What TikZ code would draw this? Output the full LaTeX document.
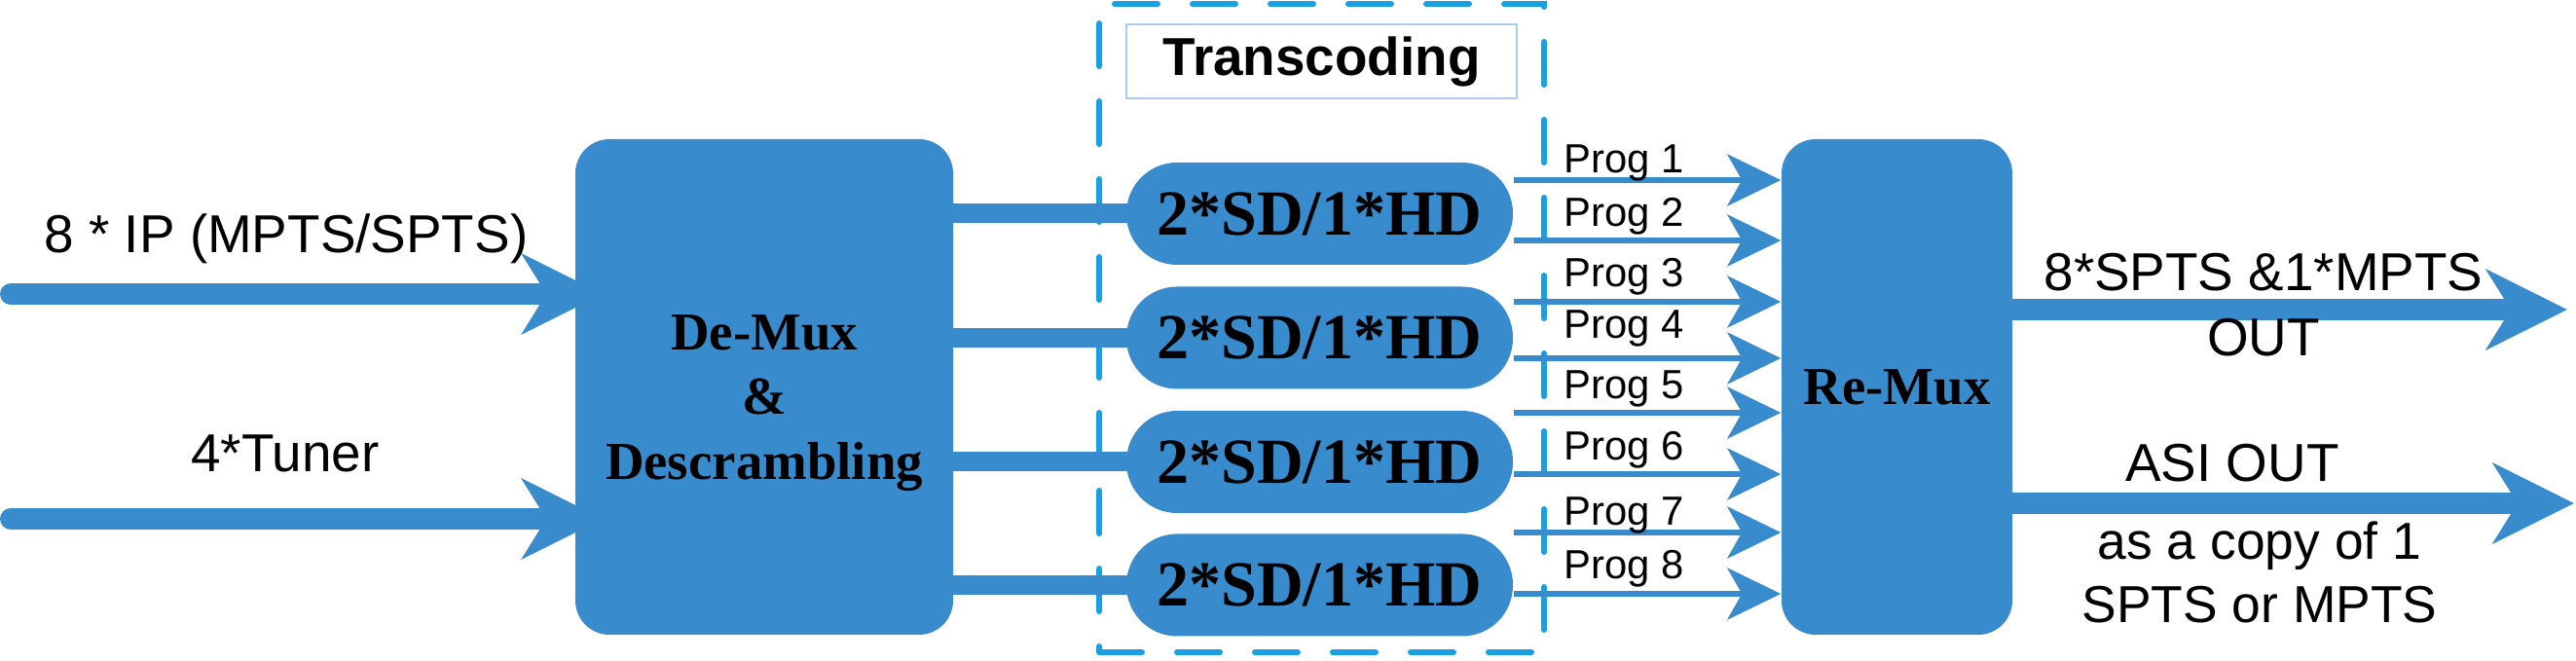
\documentclass[tikz,border=0pt]{standalone}
\usepackage{fontspec}
\setmainfont{Liberation Sans}
\newfontfamily\timesfont{Liberation Serif}
\usetikzlibrary{arrows.meta,positioning}
\definecolor{boxblue}{RGB}{56,139,204}
\definecolor{dashblue}{RGB}{24,160,226}
\definecolor{frameblue}{RGB}{170,205,235}
\tikzset{
  bigbox/.style={fill=boxblue,rounded corners=3.5mm,minimum height=5.09cm,inner sep=0pt},
  boxtext/.style={font=\timesfont\bfseries\fontsize{15.6}{18.9}\selectfont,align=center,inner sep=0pt},
  codec/.style={fill=boxblue,rounded corners=5.2mm,minimum width=3.97cm,minimum height=1.05cm,inner sep=0pt,
    font=\timesfont\bfseries\fontsize{18.8}{22}\selectfont},
  groupbox/.style={draw=dashblue,line width=0.6mm,line cap=round,dash pattern=on 4.4mm off 3.6mm,
    minimum width=4.57cm,minimum height=6.66cm,inner sep=0pt},
  fat/.style={boxblue,line width=2.2mm,line cap=round,-{Stealth[length=8.3mm,width=8.2mm,inset=2.5mm]}},
  feed/.style={boxblue,line width=2mm,line cap=round},
  progline/.style={boxblue,line width=0.6mm,-{Stealth[length=5.5mm,width=5.3mm,inset=1.5mm]}},
  proglbl/.style={font=\fontsize{11.9}{14}\selectfont,anchor=base,inner sep=0pt},
  sidelbl/.style={font=\fontsize{15.6}{19}\selectfont,anchor=base,inner sep=0pt},
  outlbl/.style={font=\fontsize{15.6}{19.1}\selectfont,align=center,inner sep=0pt}
}
\begin{document}
\begin{tikzpicture}
\useasboundingbox (0,0) rectangle (26.46,-6.79);
\node[bigbox,minimum width=3.88cm] (demux) at (7.85,-3.975) {};
\node[boxtext] (demuxtxt) at ([yshift=-1.65mm]demux.center) {De-Mux\\\&\\Descrambling};
\node[bigbox,boxtext,minimum width=2.37cm] (remux) at (19.485,-3.975) {Re-Mux};

\node[groupbox] (trans) at (13.575,-3.37) {};
\node[draw=frameblue,line width=0.2mm,minimum width=4.01cm,minimum height=0.76cm,inner sep=0pt,
  font=\bfseries\fontsize{15.6}{19}\selectfont] (translbl) at (13.575,-0.63) {Transcoding};

\foreach \y [count=\i] in {2.195,3.47,4.745,6.01} {
  \node[codec] (cod\i) at (13.555,-\y) {2*SD/1*HD};
  \draw[feed] (demux.east |- cod\i) -- (cod\i.west);
}

\foreach \ly/\by/\c [count=\n] in {1.85/1.78/1,2.47/2.33/1,3.10/2.95/2,3.68/3.48/2,
    4.24/4.10/3,4.87/4.73/3,5.47/5.40/4,6.10/5.95/4} {
  \draw[progline] (cod\c.east |- 0,-\ly) -- (remux.west |- 0,-\ly);
  \node[proglbl] at (16.68,-\by) {Prog \n};
}

\coordinate (ipin) at (0.11,-3.02);
\coordinate (tunin) at (0.11,-5.33);
\draw[fat] (ipin) -- ([xshift=2.9mm]demux.west |- ipin);
\draw[fat] (tunin) -- ([xshift=2.9mm]demux.west |- tunin);
\node[sidelbl] (iplbl) at (2.94,-2.60) {8 * IP (MPTS/SPTS)};
\node[sidelbl] (tunlbl) at (2.93,-4.85) {4*Tuner};

\coordinate (tsout) at (26.37,-3.18);
\coordinate (asiout) at (26.44,-5.17);
\draw[fat] (remux.east |- tsout) -- (tsout);
\draw[fat] (remux.east |- asiout) -- (asiout);
\node[outlbl] (tslbl) at (23.25,-3.135) {8*SPTS \&1*MPTS\\OUT};
\node[outlbl,anchor=base] (asilbl) at (22.93,-4.95) {ASI OUT};
\node[outlbl,font=\fontsize{15.2}{18.5}\selectfont] (copylbl) at (23.21,-5.875) {as a copy of 1\\SPTS or MPTS};
\end{tikzpicture}
\end{document}
